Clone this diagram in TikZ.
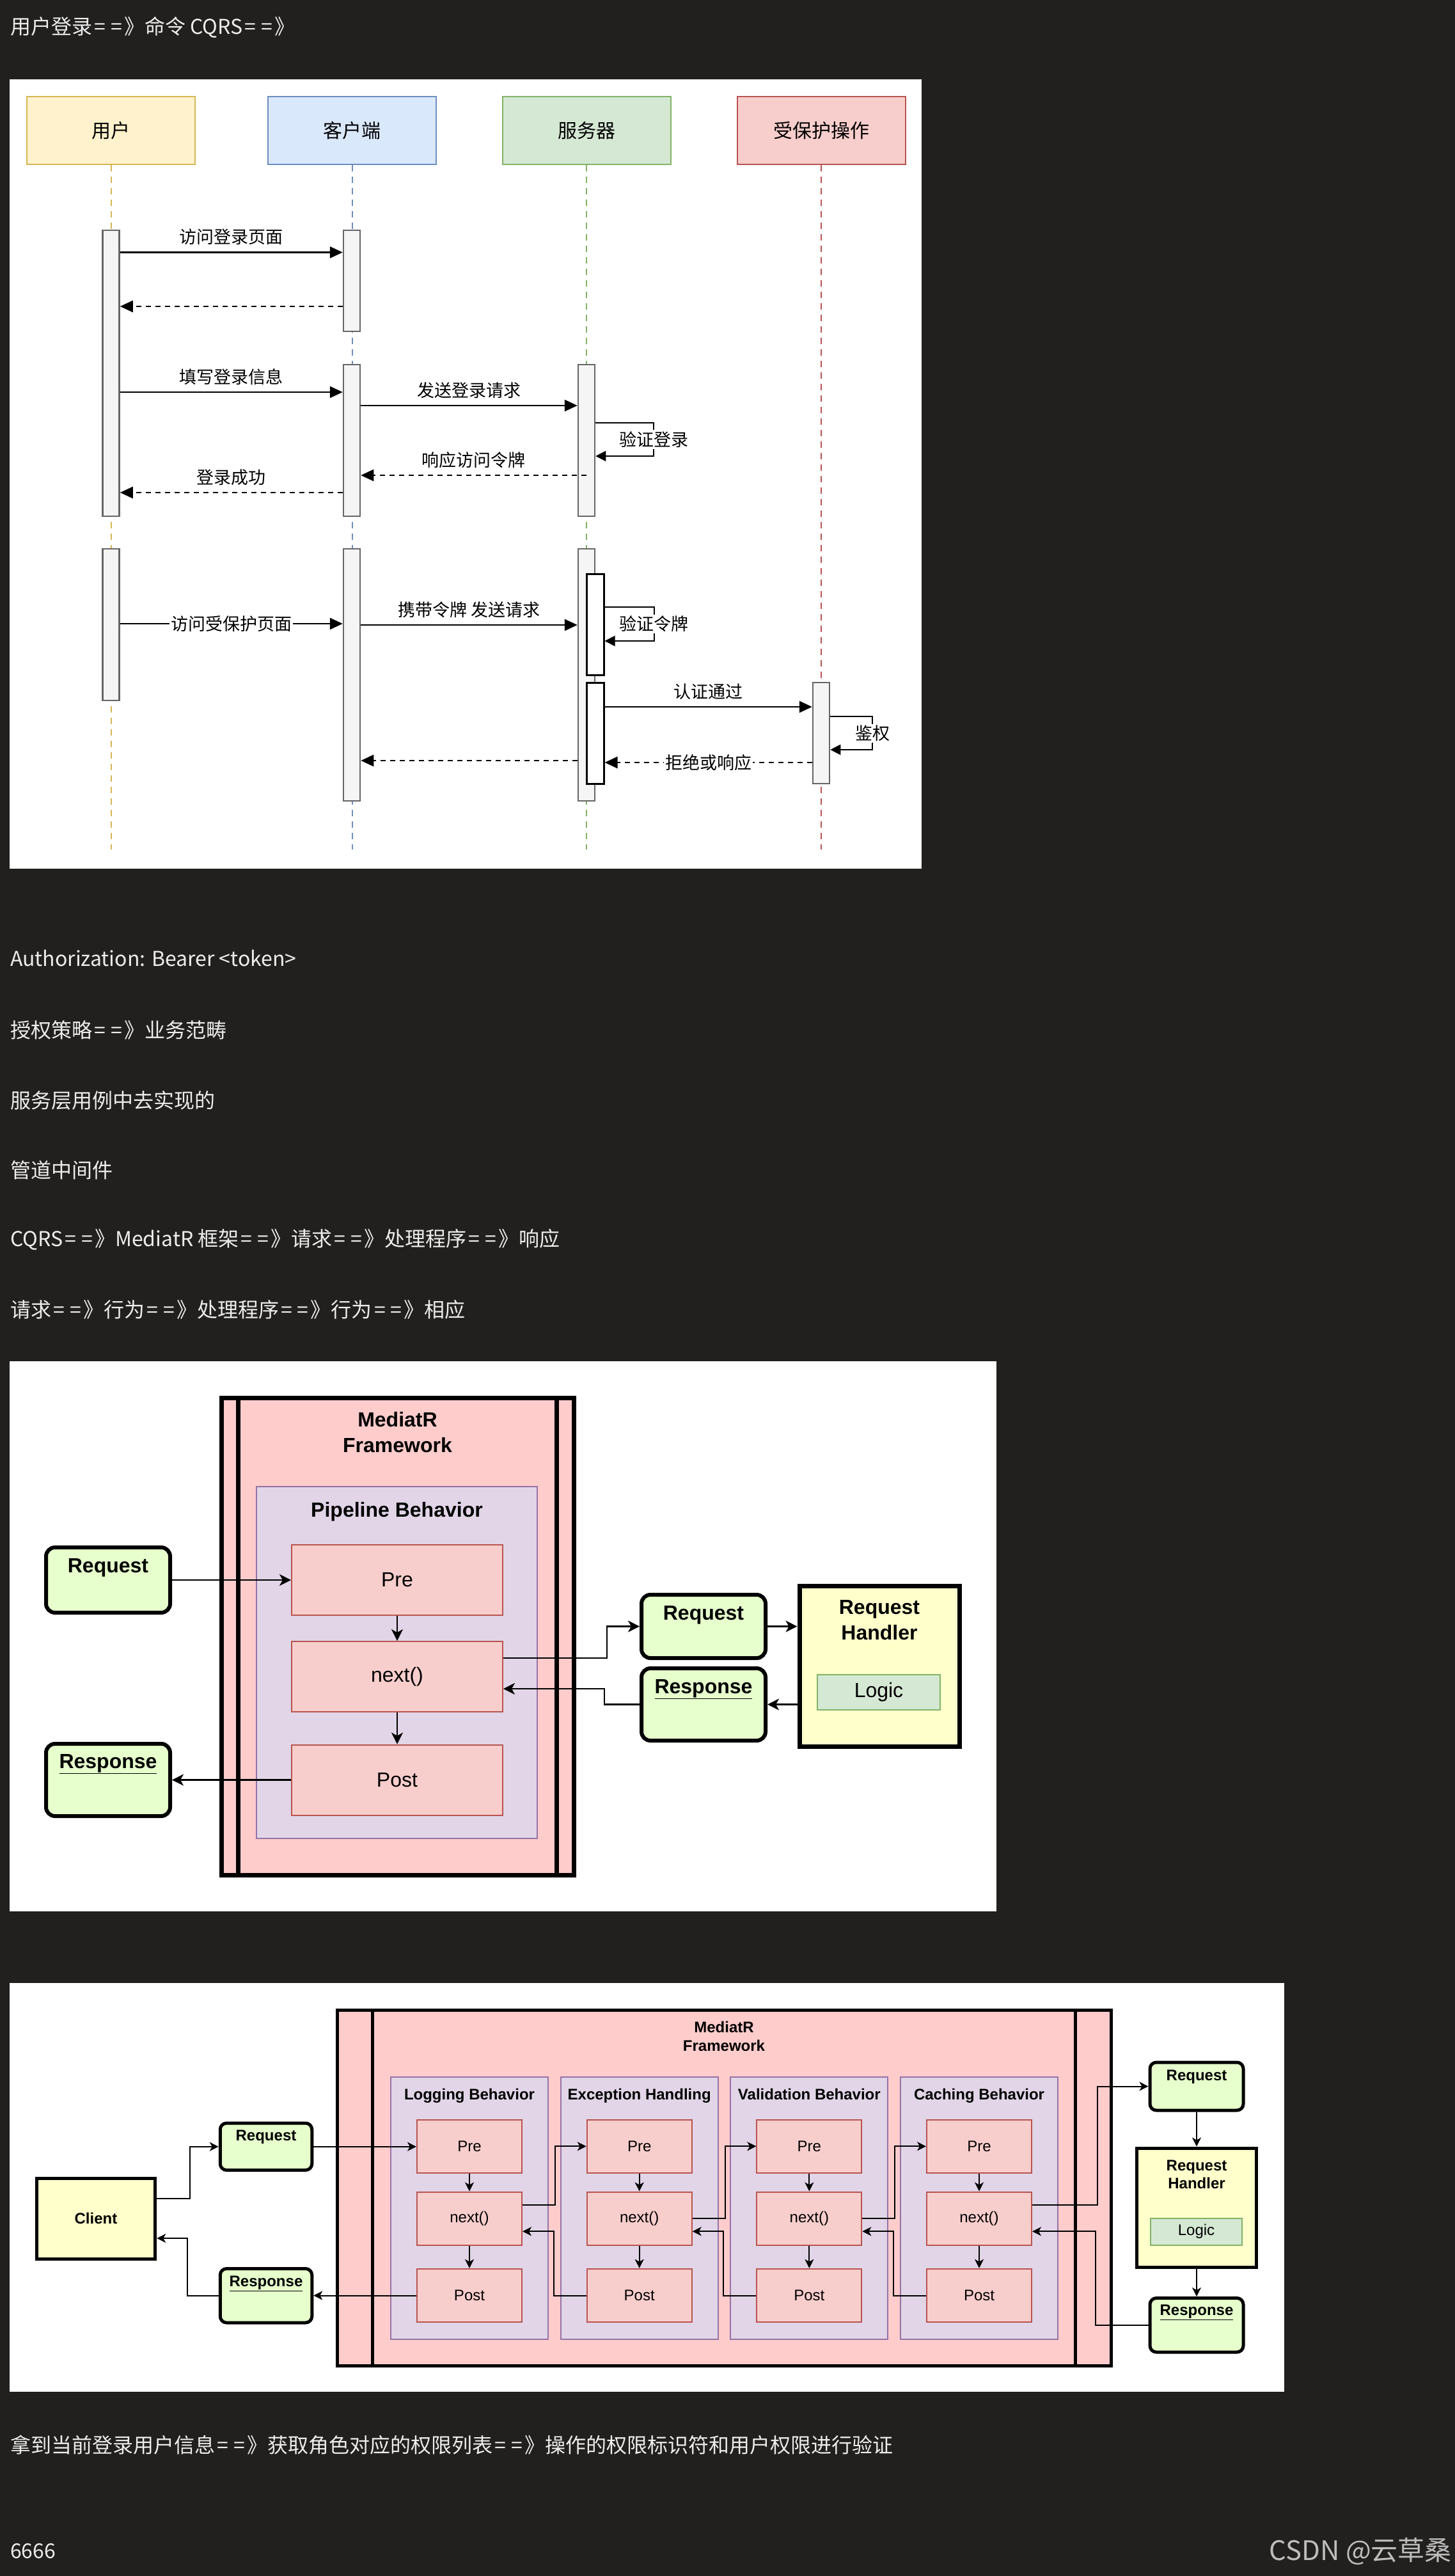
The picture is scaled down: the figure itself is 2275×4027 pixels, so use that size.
\documentclass[tikz,border=0pt]{standalone}
\usepackage{fontspec}
\setmainfont{Liberation Sans}
\newfontfamily\cjkfont{Noto Sans CJK SC}
\usetikzlibrary{arrows.meta, positioning, calc}
\usepackage{xcolor}
\definecolor{cPage}{HTML}{21201E}
\definecolor{cPageText}{HTML}{EDEDED}
\definecolor{cMark}{HTML}{BDBDBD}
\definecolor{cUserFill}{HTML}{FFF2CC}
\definecolor{cUserLine}{HTML}{D6B656}
\definecolor{cClientFill}{HTML}{DAE8FC}
\definecolor{cClientLine}{HTML}{6C8EBF}
\definecolor{cServerFill}{HTML}{D5E8D4}
\definecolor{cServerLine}{HTML}{82B366}
\definecolor{cGuardFill}{HTML}{F8CECC}
\definecolor{cGuardLine}{HTML}{B85450}
\definecolor{cBarFill}{HTML}{F5F5F5}
\definecolor{cBarLine}{HTML}{666666}
\definecolor{cFrame}{HTML}{FFCCCC}
\definecolor{cPipeFill}{HTML}{E1D5E7}
\definecolor{cPipeLine}{HTML}{9673A6}
\definecolor{cStepFill}{HTML}{F8CECC}
\definecolor{cStepLine}{HTML}{B85450}
\definecolor{cMsgFill}{HTML}{E6FFCC}
\definecolor{cHandler}{HTML}{FFFFCC}
\definecolor{cLogicFill}{HTML}{D5E8D4}
\definecolor{cLogicLine}{HTML}{82B366}
% "==》" as the notes print it, with wider equals signs
\newcommand{\dto}{\kern.1em=\kern.25em=\kern.1em》}
\tikzset{
  pagetext/.style={
    anchor=west, inner sep=0pt, text=cPageText,
    font=\cjkfont\fontsize{32}{38}\selectfont,
  },
  actor/.style={
    draw=c#1Line, fill=c#1Fill, line width=2pt,
    minimum width=263pt, minimum height=106pt,
    font=\cjkfont\fontsize{30}{36}\selectfont,
  },
  lifeline/.style={draw=#1, line width=2pt, dash pattern=on 10pt off 8pt},
  actbar/.style={
    draw=cBarLine, fill=cBarFill, line width=2.5pt,
    minimum width=26pt, inner sep=0pt,
  },
  subbar/.style={
    draw=black, fill=white, line width=3pt,
    minimum width=27pt, minimum height=158pt, inner sep=0pt,
  },
  msg/.style={line width=2.5pt, -{Triangle[length=20pt, width=18pt]}},
  reply/.style={msg, dash pattern=on 8pt off 7pt},
  selfcall/.style={line width=2pt, -{Triangle[length=16pt, width=16pt]}},
  msglabel/.style={font=\cjkfont\fontsize{27}{32}\selectfont, inner sep=2pt},
  lblup/.style={msglabel, yshift=24pt},
  lblon/.style={msglabel, fill=white},
  framebox/.style={draw=black, fill=cFrame, line width=#1},
  framebar/.style={line width=#1},
  pipebox/.style={draw=cPipeLine, fill=cPipeFill, line width=2pt},
  stepbox/.style={draw=cStepLine, fill=cStepFill, line width=2pt},
  msgbox/.style={draw=black, fill=cMsgFill, line width=#1, rounded corners=14pt},
  handlerbox/.style={draw=black, fill=cHandler, line width=#1},
  logicbox/.style={draw=cLogicLine, fill=cLogicFill, line width=2pt},
  boxtitle/.style={anchor=north, inner sep=0pt, align=center},
  bigfont/.style={font=\fontsize{32}{40}\selectfont},
  bigbold/.style={font=\bfseries\fontsize{32}{40}\selectfont},
  smallfont/.style={font=\fontsize{24}{28.5}\selectfont},
  smallbold/.style={font=\bfseries\fontsize{24}{28.5}\selectfont},
  step2/.style={stepbox, bigfont, minimum width=330pt, minimum height=110pt},
  step3/.style={stepbox, smallfont, minimum width=164pt, minimum height=83.5pt},
  flow/.style={line width=2.5pt, -{Stealth[length=18pt, width=18pt, inset=5pt]}},
  flowsm/.style={line width=2pt, -{Stealth[length=14pt, width=14pt, inset=4pt]}},
}

\begin{document}
\begin{tikzpicture}[x=1pt, y=-1pt]

  % Page
  \fill[cPage] (0,0) rectangle (2275,4027);
  \useasboundingbox (0,0) rectangle (2275,4027);

  \node[pagetext] (t1) at (16,43) {用户登录\dto 命令 CQRS\dto};

  % ---------------- Sequence diagram ----------------
  \fill[white] (15,124) rectangle (1441,1358);

  \node[actor=User] (user) at (173.5,204) {用户};
  \node[actor=Client] (client) at (550.5,204) {客户端};
  \node[actor=Server] (server) at (917,204) {服务器};
  \node[actor=Guard] (guard) at (1284,204) {受保护操作};
  \coordinate (lifeend) at (0,1328);

  % Lifelines
  \draw[lifeline=cUserLine] (user.south) -- (user.south |- lifeend);
  \draw[lifeline=cClientLine] (client.south) -- (client.south |- lifeend);
  \draw[lifeline=cServerLine] (server.south) -- (server.south |- lifeend);
  \draw[lifeline=cGuardLine] (guard.south) -- (guard.south |- lifeend);

  % Activation bars
  \node[actbar, minimum height=447pt] (ubar1) at (173.5,583.5) {};
  \node[actbar, minimum height=158pt] (cbar1) at (550,439) {};
  \node[actbar, minimum height=237pt] (cbar2) at (550,688.5) {};
  \node[actbar, minimum height=237pt] (sbar1) at (917,688.5) {};
  \node[actbar, minimum height=237pt] (ubar2) at (173.5,976.5) {};
  \node[actbar, minimum height=394pt] (cbar3) at (550,1055) {};
  \node[actbar, minimum height=394pt] (sbar2) at (917,1055) {};
  \node[subbar] (sbar3) at (930.5,976) {};
  \node[subbar] (sbar4) at (930.5,1146) {};
  \node[actbar, minimum height=158pt] (gbar) at (1284,1146) {};

  % Messages
  \draw[msg] (ubar1.east |- 0,394.5) -- node[lblup] (m1) {访问登录页面} (cbar1.west |- 0,394.5);
  \draw[reply] (cbar1.west |- 0,479) -- (ubar1.east |- 0,479);
  \draw[msg] (ubar1.east |- 0,613) -- node[lblup] (m2) {填写登录信息} (cbar2.west |- 0,613);
  \draw[msg] (cbar2.east |- 0,634) -- node[lblup] (m3) {发送登录请求} (sbar1.west |- 0,634);
  \draw[selfcall] (sbar1.east |- 0,661) -- ++(91,0)
    -- node[lblon] (m4) {验证登录} ++(0,52) -- (sbar1.east |- 0,713);
  \draw[reply] (sbar1.center |- 0,743) -- node[lblup] (m5) {响应访问令牌} (cbar2.east |- 0,743);
  \draw[reply] (cbar2.west |- 0,770) -- node[lblup] (m6) {登录成功} (ubar1.east |- 0,770);

  \draw[msg] (ubar2.east |- 0,975) -- node[lblon] (m7) {访问受保护页面} (cbar3.west |- 0,975);
  \draw[msg] (cbar3.east |- 0,977) -- node[lblup] (m8) {携带令牌 发送请求} (sbar2.west |- 0,977);
  \draw[selfcall] (sbar3.east |- 0,949) -- ++(77,0)
    -- node[lblon] (m9) {验证令牌} ++(0,53) -- (sbar3.east |- 0,1002);
  \draw[msg] (sbar4.east |- 0,1105) -- node[lblup] (m10) {认证通过} (gbar.west |- 0,1105);
  \draw[selfcall] (gbar.east |- 0,1120) -- ++(66,0)
    -- node[lblon] (m11) {鉴权} ++(0,52) -- (gbar.east |- 0,1172);
  \draw[reply] (gbar.west |- 0,1192) -- node[lblon] (m12) {拒绝或响应} (sbar4.east |- 0,1192);
  \draw[reply] (sbar2.west |- 0,1189) -- (cbar3.east |- 0,1189);

  % Notes
  \node[pagetext] (t2) at (16,1498) {Authorization: Bearer <token>};
  \node[pagetext] (t3) at (16,1610) {授权策略\dto 业务范畴};
  \node[pagetext] (t4) at (16,1720) {服务层用例中去实现的};
  \node[pagetext] (t5) at (16,1829) {管道中间件};
  \node[pagetext] (t6) at (16,1938) {CQRS\dto MediatR 框架\dto 请求\dto 处理程序\dto 响应};
  \node[pagetext] (t7) at (16,2047) {请求\dto 行为\dto 处理程序\dto 行为\dto 相应};

  % ---------------- Single pipeline ----------------
  \fill[white] (15,2128) rectangle (1558,2988);

  \node[framebox=7pt, minimum width=551pt, minimum height=746pt] (frame2) at (621.5,2558) {};
  \draw[framebar=7pt] ([xshift=30pt]frame2.north west) -- ([xshift=30pt]frame2.south west);
  \draw[framebar=7pt] ([xshift=-30pt]frame2.north east) -- ([xshift=-30pt]frame2.south east);
  \node[boxtitle, bigbold, below=26pt of frame2.north] (frame2t) {MediatR\\Framework};

  \node[pipebox, minimum width=439pt, minimum height=550pt] (pipe) at (620.5,2599) {};
  \node[boxtitle, bigbold, below=25pt of pipe.north] (pipet) {Pipeline Behavior};
  \node[step2] (pre) at (621,2470) {Pre};
  \node[step2] (nxt) at (621,2621) {next()};
  \node[step2] (post) at (621,2782.5) {Post};

  \node[msgbox=6pt, minimum width=194pt, minimum height=102pt] (reqL) at (169,2470) {};
  \node[boxtitle, bigbold, below=20pt of reqL.north] (reqLt) {Request};
  \node[msgbox=6pt, minimum width=194pt, minimum height=113pt] (respL) at (169,2782.5) {};
  \node[boxtitle, bigbold, below=19pt of respL.north] (respLt) {\underline{Response}};

  \node[msgbox=6pt, minimum width=194pt, minimum height=99pt] (reqR) at (1100,2542.5) {};
  \node[boxtitle, bigbold, below=20pt of reqR.north] (reqRt) {Request};
  \node[msgbox=6pt, minimum width=194pt, minimum height=113pt] (respR) at (1100,2664.5) {};
  \node[boxtitle, bigbold, below=20pt of respR.north] (respRt) {\underline{Response}};

  \node[handlerbox=7pt, minimum width=250pt, minimum height=251pt] (handler) at (1375,2604.5) {};
  \node[boxtitle, bigbold, below=26pt of handler.north] (handlert) {Request\\Handler};
  \node[logicbox, bigfont, minimum width=192pt, minimum height=55pt] (logic) at (1374,2645.5) {Logic};

  \draw[flow] (reqL.east) -- (reqL.east -| pre.west);
  \draw[flow] (pre) -- (nxt);
  \draw[flow] (nxt) -- (post);
  \draw[flow] (post.west) -- (post.west -| respL.east);
  \draw[flow] ([yshift=29pt]nxt.east) -- ++(162,0) |- (reqR.west);
  \draw[flow] (reqR.east) -- (reqR.east -| handler.west);
  \draw[flow] (handler.west |- respR.east) -- (respR.east);
  \draw[flow] (respR.west) -- ++(-55,0) |- ([yshift=-19pt]nxt.east);

  % ---------------- Chained behaviors ----------------
  \fill[white] (15,3100) rectangle (2008,3739);

  \node[framebox=5pt, minimum width=1210pt, minimum height=555.5pt] (frame3) at (1132,3420.25) {};
  \draw[framebar=5pt] ([xshift=58pt]frame3.north west) -- ([xshift=58pt]frame3.south west);
  \draw[framebar=5pt] ([xshift=-58pt]frame3.north east) -- ([xshift=-58pt]frame3.south east);
  \node[boxtitle, smallbold, below=20pt of frame3.north] (frame3t) {MediatR\\Framework};

  \foreach \i/\name in {1/Logging Behavior, 2/Exception Handling, 3/Validation Behavior, 4/Caching Behavior} {
    \node[pipebox, minimum width=246pt, minimum height=410.5pt] (beh\i) at ({734+265.67*(\i-1)},3451.75) {};
    \node[boxtitle, smallbold, below=19pt of beh\i.north] (title\i) {\name};
    \node[step3] (pre\i) at (beh\i.center |- 0,3355.25) {Pre};
    \node[step3] (nxt\i) at (beh\i.center |- 0,3468.25) {next()};
    \node[step3] (post\i) at (beh\i.center |- 0,3588.5) {Post};
    \draw[flowsm] (pre\i) -- (nxt\i);
    \draw[flowsm] (nxt\i) -- (post\i);
  }

  \draw[flowsm] ([yshift=21pt]nxt1.east) -- ++(51,0) |- (pre2.west);
  \draw[flowsm] (post2.west) -- ++(-51,0) |- ([yshift=-20pt]nxt1.east);
  \draw[flowsm] (nxt2.east) -- ++(51,0) |- (pre3.west);
  \draw[flowsm] (post3.west) -- ++(-51,0) |- ([yshift=-20pt]nxt2.east);
  \draw[flowsm] (nxt3.east) -- ++(51,0) |- (pre4.west);
  \draw[flowsm] (post4.west) -- ++(-51,0) |- ([yshift=-20pt]nxt3.east);

  \node[handlerbox=5pt, smallbold, minimum width=185.5pt, minimum height=126pt] (client3) at (150,3468) {Client};
  \node[msgbox=5pt, rounded corners=10pt, minimum width=143.5pt, minimum height=73.5pt] (reqL3) at (416,3355.75) {};
  \node[boxtitle, smallbold, below=13pt of reqL3.north] (reqL3t) {Request};
  \node[msgbox=5pt, rounded corners=10pt, minimum width=143.5pt, minimum height=84.5pt] (respL3) at (416,3588.75) {};
  \node[boxtitle, smallbold, below=14pt of respL3.north] (respL3t) {\underline{Response}};

  \node[msgbox=5pt, rounded corners=10pt, minimum width=146pt, minimum height=75pt] (reqR3) at (1871,3261.5) {};
  \node[boxtitle, smallbold, below=14pt of reqR3.north] (reqR3t) {Request};
  \node[handlerbox=5pt, minimum width=186.4pt, minimum height=186pt] (handler3) at (1871,3451) {};
  \node[boxtitle, smallbold, below=21pt of handler3.north] (handler3t) {Request\\Handler};
  \node[logicbox, smallfont, minimum width=143pt, minimum height=42pt] (logic3) at (1870.5,3488.5) {Logic};
  \node[msgbox=5pt, rounded corners=10pt, minimum width=146pt, minimum height=84.5pt] (respR3) at (1871,3634.75) {};
  \node[boxtitle, smallbold, below=13pt of respR3.north] (respR3t) {\underline{Response}};

  \draw[flowsm] ([yshift=31pt]client3.east) -- ++(52,0) |- (reqL3.west);
  \draw[flowsm] (reqL3.east) -- (reqL3.east -| pre1.west);
  \draw[flowsm] (post1.west) -- (post1.west -| respL3.east);
  \draw[flowsm] (respL3.west) -- ++(-49,0) |- ([yshift=-31pt]client3.east);
  \draw[flowsm] ([yshift=21pt]nxt4.east) -- ++(102,0) |- (reqR3.west);
  \draw[flowsm] (reqR3) -- (handler3);
  \draw[flowsm] (handler3) -- (respR3);
  \draw[flowsm] (respR3.west) -- ++(-83,0) |- ([yshift=-20pt]nxt4.east);

  % Footer
  \node[pagetext] (t8) at (16,3822)
    {拿到当前登录用户信息\dto 获取角色对应的权限列表\dto 操作的权限标识符和用户权限进行验证};
  \node[pagetext] (t9) at (16,3988) {6666};
  \node[pagetext, anchor=east, text=cMark, font=\cjkfont\fontsize{42}{48}\selectfont] (mark) at (2270,3988) {CSDN @云草桑};

\end{tikzpicture}
\end{document}
